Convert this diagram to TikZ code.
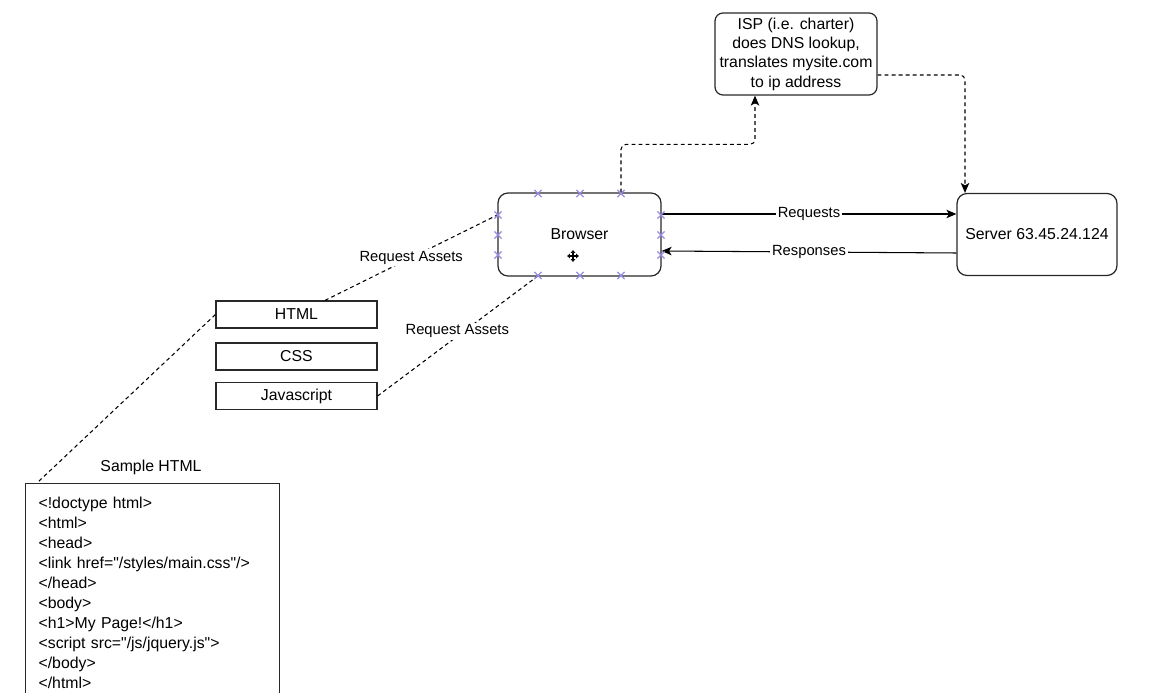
\documentclass[tikz,border=0pt]{standalone}
\usepackage{fontspec}
\setmainfont{Liberation Sans}[Ligatures=TeXOff]
\usetikzlibrary{arrows.meta,shapes.misc}
\definecolor{handleblue}{RGB}{150,140,225}
\definecolor{linegray}{RGB}{40,40,40}

\begin{document}
\begin{tikzpicture}[x=0.02cm, y=-0.02cm, font=\fontsize{9}{11}\selectfont,
		boxstyle/.style={draw=linegray, line width=0.7pt, rounded corners=0.2cm, minimum width=3.24cm, minimum height=1.64cm, align=center, inner sep=0mm},
		filestyle/.style={draw=linegray, line width=0.7pt, minimum width=3.22cm, minimum height=0.54cm, inner sep=0mm},
		edgestyle/.style={line width=0.6pt, -{Stealth[length=2mm, width=1.7mm, inset=0.5mm]}},
		dashstyle/.style={line width=0.6pt, dash pattern=on 2.2pt off 1.8pt},
		labelstyle/.style={fill=white, inner sep=1pt, font=\fontsize{8.4}{10}\selectfont},
		handlestyle/.style={cross out, draw=handleblue, line width=0.7pt, minimum size=0.12cm, inner sep=0mm},
		movestyle/.style={line width=0.9pt, {Latex[length=1.6pt, width=3pt]}-{Latex[length=1.6pt, width=3pt]}}]

	\useasboundingbox (0,0) rectangle (1171,693);
	\clip (0,0) rectangle (1171,693);

	\node [boxstyle, rounded corners=0.16cm] (isp) at (796,54) {ISP (i.e. charter)\\does DNS lookup,\\translates mysite.com\\to ip address};
	\node [boxstyle, minimum width=3.26cm, minimum height=1.66cm] (browser) at (579.5,234.5) {Browser};
	\node [boxstyle, minimum width=3.2cm] (server) at (1037,234.5) {Server 63.45.24.124};

	\node [filestyle] (html) at (296.5,314.5) {HTML};
	\node [filestyle] (css) at (296.5,356.5) {CSS};
	\node [filestyle] (js) at (296.5,396) {Javascript};

	\node (sampletitle) at (151,467) {Sample HTML};
	\node [draw=linegray, line width=0.7pt, anchor=north west, align=left, text width=4.56cm,
		inner xsep=0.26cm, inner ysep=0.26cm, font=\fontsize{9}{11.4}\selectfont] (sample) at (25,483)
		{<!doctype html>\\<html>\\<head>\\<link href="/styles/main.css"/>\\</head>\\<body>\\<h1>My Page!</h1>\\<script src="/js/jquery.js">\\</body>\\</html>};

	\draw [edgestyle] ([yshift=0.41cm]browser.east) -- node [labelstyle] {Requests} ([yshift=0.41cm]server.west);
	\draw [edgestyle] ([yshift=-0.37cm]server.west) -- node [labelstyle] {Responses} ([yshift=-0.33cm]browser.east);

	\draw [dashstyle, edgestyle, rounded corners=0.1cm] ([xshift=0.83cm]browser.north) -- ++(0,-48) -| ([xshift=-0.82cm]isp.south);
	\draw [dashstyle, edgestyle, rounded corners=0.1cm] ([yshift=-0.42cm]isp.east) -| ([xshift=-1.44cm]server.north);

	\draw [dashstyle] ([xshift=0.57cm]html.north) -- node [labelstyle] {Request Assets} ([yshift=0.39cm]browser.west);
	\draw [dashstyle] (js.east) -- node [labelstyle, yshift=0.1cm] {Request Assets} ([xshift=-0.85cm]browser.south);
	\draw [dashstyle] (html.west) -- ([xshift=0.24cm]sample.north west);

	% connection handles of the selected browser box
	\foreach \x in {538,580,621} {
		\node [handlestyle] (top\x) at (\x,193.5) {};
		\node [handlestyle] (bot\x) at (\x,275.5) {};
	}
	\foreach \y in {215,235,255} {
		\node [handlestyle] (left\y) at (498,\y) {};
		\node [handlestyle] (right\y) at (661,\y) {};
	}
	\draw [movestyle] (567,256) -- (579,256);
	\draw [movestyle] (573,250) -- (573,262);
\end{tikzpicture}
\end{document}
